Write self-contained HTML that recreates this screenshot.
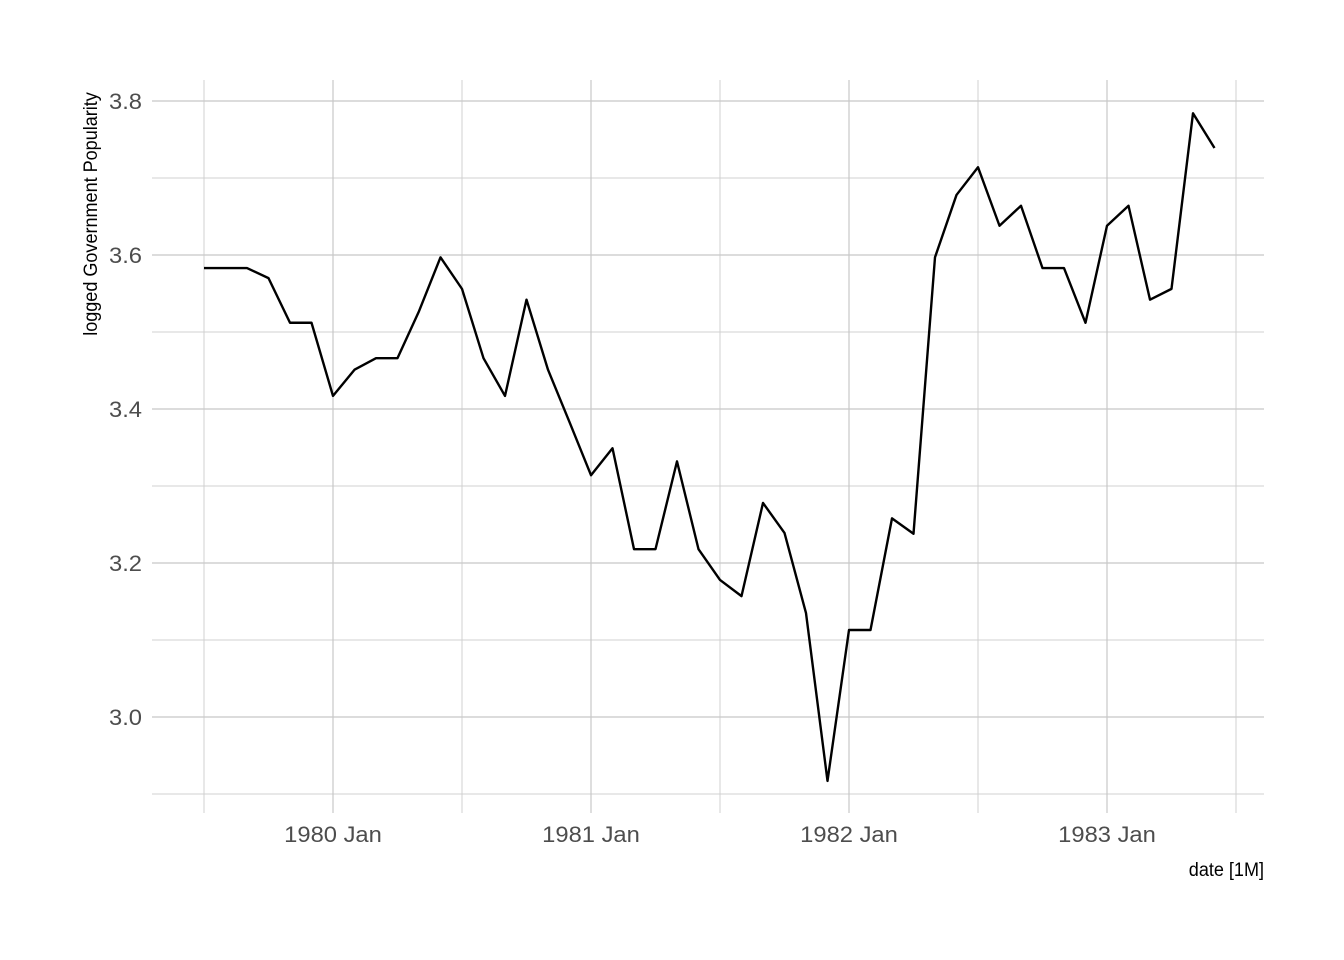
<!DOCTYPE html>
<html><head><meta charset="utf-8"><style>
body{margin:0;background:#fff;}
svg{display:block;font-family:"Liberation Sans",sans-serif;}
</style></head><body>
<svg id="chart" width="1344" height="960"></svg>
<script>
const months = ["1979 Jul","1979 Aug","1979 Sep","1979 Oct","1979 Nov","1979 Dec",
"1980 Jan","1980 Feb","1980 Mar","1980 Apr","1980 May","1980 Jun","1980 Jul","1980 Aug","1980 Sep","1980 Oct","1980 Nov","1980 Dec",
"1981 Jan","1981 Feb","1981 Mar","1981 Apr","1981 May","1981 Jun","1981 Jul","1981 Aug","1981 Sep","1981 Oct","1981 Nov","1981 Dec",
"1982 Jan","1982 Feb","1982 Mar","1982 Apr","1982 May","1982 Jun","1982 Jul","1982 Aug","1982 Sep","1982 Oct","1982 Nov","1982 Dec",
"1983 Jan","1983 Feb","1983 Mar","1983 Apr","1983 May","1983 Jun"];
const values = [3.583,3.583,3.583,3.570,3.512,3.512,
3.417,3.451,3.466,3.466,3.527,3.597,3.556,3.466,3.417,3.542,3.451,3.383,
3.314,3.349,3.218,3.218,3.332,3.218,3.178,3.157,3.278,3.239,3.135,2.917,
3.113,3.113,3.258,3.238,3.597,3.678,3.714,3.638,3.664,3.583,3.583,3.512,
3.638,3.664,3.542,3.556,3.784,3.739];
const yTicks = [3.0,3.2,3.4,3.6,3.8];
const yMinor = [2.9,3.1,3.3,3.5,3.7];
const xTickLabels = ["1980 Jan","1981 Jan","1982 Jan","1983 Jan"];
const xTickIdx = [6,18,30,42];
const xMinorIdx = [0,12,24,36,48];

const NS="http://www.w3.org/2000/svg";
const svg=document.getElementById('chart');
const L=152,R=1264,T=80,B=797;
const x=i=>204+i*21.5;
const y=v=>717-(v-3.0)*770;
function mk(tag,attrs,parent){const e=document.createElementNS(NS,tag);for(const k in attrs)e.setAttribute(k,attrs[k]);(parent||svg).appendChild(e);return e;}
const grid=mk('g',{});


yMinor.forEach(v=>{const l=mk('line',{x1:L,x2:R,y1:y(v),y2:y(v),stroke:'#d0d0d0','stroke-width':1},grid);

});
xMinorIdx.forEach(i=>{const l=mk('line',{x1:x(i),x2:x(i),y1:T,y2:B+16,stroke:'#d0d0d0','stroke-width':1},grid);

});
yTicks.forEach(v=>{const l=mk('line',{x1:L,x2:R,y1:y(v),y2:y(v),stroke:'#c8c8c8','stroke-width':1.2},grid);


const t=mk('text',{x:0,y:0,transform:'translate(142,'+(y(v)+8)+') scale(1.08,1)','text-anchor':'end','font-size':22,fill:'#4d4d4d'});t.textContent=v.toFixed(1);

});
xTickIdx.forEach((i,k)=>{const l=mk('line',{x1:x(i),x2:x(i),y1:T,y2:B+16,stroke:'#c8c8c8','stroke-width':1.2},grid);


const t=mk('text',{x:0,y:0,transform:'translate('+x(i)+',842) scale(1.08,1)','text-anchor':'middle','font-size':22,fill:'#4d4d4d'});t.textContent=xTickLabels[k];

});
const p=mk('polyline',{points:values.map((v,i)=>x(i)+','+y(v)).join(' '),fill:'none',stroke:'#000','stroke-width':2.4,'stroke-linejoin':'round'});


const yt=mk('text',{x:0,y:0,transform:'translate(97,214) rotate(-90) scale(0.95,1)','text-anchor':'middle','font-size':19,fill:'#000'});
yt.textContent='logged Government Popularity';


const xt=mk('text',{x:0,y:0,transform:'translate(1264,876) scale(0.95,1)','text-anchor':'end','font-size':19,fill:'#000'});
xt.textContent='date [1M]';


</script>
</body></html>
